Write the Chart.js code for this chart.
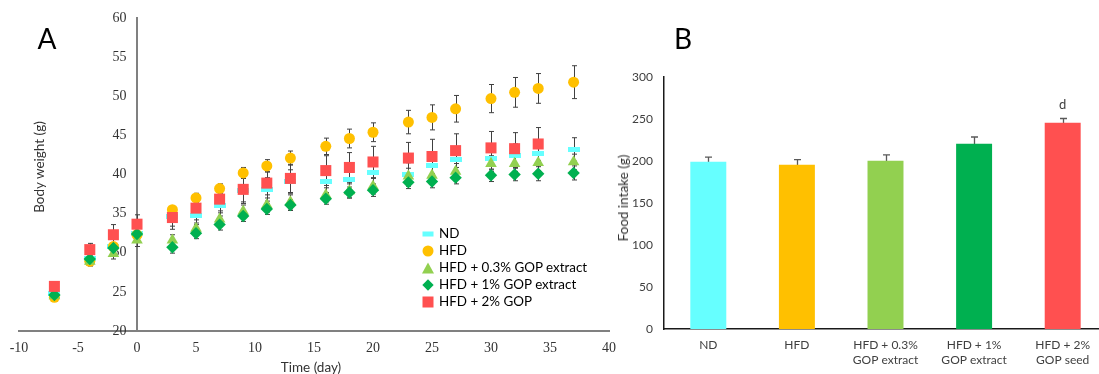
<!DOCTYPE html>
<html>
<head>
<meta charset="utf-8">
<script src="https://cdn.jsdelivr.net/npm/chart.js@4/dist/chart.umd.min.js"></script>
<style>
    html, body { margin: 0; padding: 0; background: #fff; overflow: hidden; }
    body { width: 1099px; height: 374px; position: relative; font-family: Lato, "Liberation Sans", sans-serif; color: #000; }
    #graficoPeso { position: absolute; left: 0; top: 0; }
    #graficoConsumo { position: absolute; left: 620px; top: 0; }
    .panel { position: absolute; font-size: 28px; line-height: 28px; transform: translate(-50%, -50%); }
    .titulo { position: absolute; font-size: 13.5px; line-height: 16px; color: #333; white-space: nowrap; transform: translate(-50%, -50%); }
    .titulo.rot { transform: translate(-50%, -50%) rotate(-90deg); }
    #leyenda { position: absolute; left: 420px; top: 225px; font-size: 13.4px; }
    #leyenda div { position: relative; height: 17px; line-height: 17px; padding-left: 19px; white-space: nowrap; }
    #leyenda span { position: absolute; left: 8px; top: 8.5px; transform: translate(-50%, -50%); }
</style>
</head>
<body>
<canvas id="graficoPeso" width="640" height="374"></canvas>
<canvas id="graficoConsumo" width="490" height="374"></canvas>
<div class="panel" style="left:47px; top:38px;">A</div>
<div class="panel" style="left:683px; top:38px;">B</div>
<div class="titulo rot" style="left:39px; top:167px;">Body weight (g)</div>
<div class="titulo" style="left:311px; top:367px;">Time (day)</div>
<div class="titulo rot" style="left:623px; top:198px;">Food intake (g)</div>
<div id="leyenda">
    <div><span style="width:11px;height:5px;background:#66FFFF;"></span>ND</div>
    <div><span style="width:11px;height:11px;border-radius:50%;background:#FFC000;"></span>HFD</div>
    <div><span style="width:0;height:0;border-left:6px solid transparent;border-right:6px solid transparent;border-bottom:11px solid #92D050;"></span>HFD + 0.3% GOP extract</div>
    <div><span style="width:8px;height:8px;background:#00B050;transform:translate(-50%,-50%) rotate(45deg);"></span>HFD + 1% GOP extract</div>
    <div><span style="width:11px;height:11px;background:#FF5050;"></span>HFD + 2% GOP</div>
</div>
<script>
// Panel A: peso corporal
let dias = [-7, -4, -2, 0, 3, 5, 7, 9, 11, 13, 16, 18, 20, 23, 25, 27, 30, 32, 34, 37];
let pesoND = [24.8, 29.3, 30.8, 32.5, 34.6, 34.8, 36.0, 38.0, 38.1, 39.1, 39.1, 39.4, 40.2, 40.0, 41.2, 41.9, 42.1, 42.4, 42.7, 43.2];
let pesoHFD = [24.3, 28.9, 30.8, 32.3, 35.5, 37.0, 38.2, 40.2, 41.1, 42.1, 43.6, 44.6, 45.4, 46.7, 47.3, 48.4, 49.7, 50.5, 51.0, 51.8];
let pesoExt03 = [24.5, 28.9, 29.9, 31.6, 31.6, 33.1, 34.3, 35.3, 36.1, 36.5, 37.4, 37.9, 38.5, 39.8, 39.9, 40.4, 41.4, 41.4, 41.5, 41.6];
let pesoExt1 = [24.6, 29.2, 30.6, 32.4, 30.7, 32.5, 33.6, 34.7, 35.6, 36.1, 36.9, 37.7, 38.0, 39.0, 39.1, 39.6, 39.9, 40.0, 40.1, 40.2];
let pesoGOP2 = [25.7, 30.4, 32.3, 33.65, 34.5, 35.7, 36.85, 38.1, 38.9, 39.5, 40.5, 40.9, 41.6, 42.1, 42.3, 43.05, 43.4, 43.3, 43.9];

let errND = [0.5, 0.8, 1.0, 1.2, 1.2, 1.2, 1.3, 1.5, 1.5, 1.5, 1.4, 1.4, 1.5, 1.5, 1.5, 1.5, 1.5, 1.5, 1.5, 1.5];
let errHFD = [0.4, 0.4, 0.5, 0.5, 0.5, 0.6, 0.6, 0.7, 0.8, 0.9, 1.05, 1.2, 1.2, 1.5, 1.6, 1.7, 1.8, 1.9, 1.9, 2.1];
let errExt03 = [0.5, 0.6, 0.7, 0.8, 0.7, 0.7, 0.8, 0.8, 0.9, 0.9, 0.9, 0.9, 1.0, 1.0, 1.0, 1.0, 1.0, 1.0, 1.0, 1.0];
let errExt1 = [0.5, 0.6, 0.6, 0.7, 0.75, 0.7, 0.7, 0.7, 0.7, 0.7, 0.7, 0.7, 0.8, 0.8, 0.8, 0.8, 0.8, 0.8, 0.9, 0.9];
let errGOP2 = [0.4, 0.8, 1.3, 1.2, 1.5, 1.5, 1.5, 1.8, 1.5, 1.8, 1.9, 1.9, 2.0, 2.0, 2.2, 2.15, 2.1, 2.05, 2.1];

let ticksX = [-10, -5, 0, 5, 10, 15, 20, 25, 30, 35, 40];
let ticksY = [20, 25, 30, 35, 40, 45, 50, 55, 60];

// Panel B: consumo de alimento
let grupos = ["ND", "HFD", ["HFD + 0.3%", "GOP extract"], ["HFD + 1%", "GOP extract"], ["HFD + 2%", "GOP seed"]];
let consumo = [199, 195.6, 200.4, 220.6, 245.6];
let errConsumo = [5.5, 6, 7, 8, 5];
let letras = ["", "", "", "", "d"];
let ticksConsumo = [0, 50, 100, 150, 200, 250, 300];

let colores = ["#66FFFF", "#FFC000", "#92D050", "#00B050", "#FF5050"];

function puntos(valores) {
    return valores.map((v, i) => ({ x: dias[i], y: v }));
}

const barrasError = {
    id: "barrasError",
    beforeDatasetsDraw(chart, args, opts) {
        const ctx = chart.ctx;
        const escalaY = chart.scales.y;
        ctx.save();
        ctx.strokeStyle = opts.color;
        ctx.lineWidth = opts.width;
        chart.data.datasets.forEach((ds, i) => {
            if (!ds.errores) return;
            const meta = chart.getDatasetMeta(i);
            meta.data.forEach((el, j) => {
                const v = typeof ds.data[j] === "object" ? ds.data[j].y : ds.data[j];
                const arriba = escalaY.getPixelForValue(v + ds.errores[j]);
                const abajo = escalaY.getPixelForValue(v - ds.errores[j]);
                const x = Math.round(el.x) + 0.5;
                ctx.beginPath();
                ctx.moveTo(x, arriba);
                ctx.lineTo(x, abajo);
                ctx.moveTo(x - opts.cap, arriba);
                ctx.lineTo(x + opts.cap, arriba);
                ctx.moveTo(x - opts.cap, abajo);
                ctx.lineTo(x + opts.cap, abajo);
                ctx.stroke();
            });
        });
        ctx.restore();
    }
};

const letrasBarras = {
    id: "letrasBarras",
    afterDatasetsDraw(chart) {
        const ctx = chart.ctx;
        const ds = chart.data.datasets[0];
        const meta = chart.getDatasetMeta(0);
        ctx.save();
        ctx.font = "13px Lato";
        ctx.fillStyle = "#404040";
        ctx.textAlign = "center";
        ctx.textBaseline = "bottom";
        letras.forEach((t, i) => {
            if (!t) return;
            const y = chart.scales.y.getPixelForValue(ds.data[i] + ds.errores[i]);
            ctx.fillText(t, meta.data[i].x, y - 7);
        });
        ctx.restore();
    }
};

function generarGraficoPeso() {
    const guion = document.createElement("canvas");
    guion.width = 12;
    guion.height = 5;
    const g = guion.getContext("2d");
    g.fillStyle = "#66FFFF";
    g.fillRect(0, 0, 12, 5);

    const fuenteEje = { family: "'Liberation Serif', 'Times New Roman', serif", size: 14 };

    new Chart(document.getElementById("graficoPeso"), {
        type: "scatter",
        data: {
            datasets: [
                { label: "ND", data: puntos(pesoND), errores: errND, pointStyle: guion, backgroundColor: "#66FFFF", order: 5 },
                { label: "HFD", data: puntos(pesoHFD), errores: errHFD, pointStyle: "circle", pointRadius: 5.5, backgroundColor: "#FFC000", order: 4 },
                { label: "HFD + 0.3% GOP extract", data: puntos(pesoExt03), errores: errExt03, pointStyle: "triangle", pointRadius: 6.7, backgroundColor: "#92D050", order: 3 },
                { label: "HFD + 1% GOP extract", data: puntos(pesoExt1), errores: errExt1, pointStyle: "rectRot", pointRadius: 6.2, backgroundColor: "#00B050", order: 2 },
                { label: "HFD + 2% GOP", data: puntos(pesoGOP2), errores: errGOP2, pointStyle: "rect", pointRadius: 7.8, backgroundColor: "#FF5050", order: 1 }
            ]
        },
        options: {
            responsive: false,
            animation: false,
            elements: { point: { borderWidth: 0 } },
            layout: { padding: { left: 19, right: 31, top: 18, bottom: 0 } },
            plugins: {
                legend: { display: false },
                tooltip: { enabled: false },
                barrasError: { color: "#404040", width: 1, cap: 2.5 }
            },
            scales: {
                x: {
                    type: "linear",
                    min: -10,
                    max: 40,
                    afterBuildTicks: (s) => { s.ticks = ticksX.map(v => ({ value: v })); },
                    afterFit: (s) => { s.height = 43; },
                    grid: { display: false, drawTicks: false },
                    border: { color: "#808080", width: 2 },
                    ticks: { color: "#333", font: fuenteEje, padding: 9 }
                },
                y: {
                    position: { x: 0 },
                    min: 20,
                    max: 60,
                    afterBuildTicks: (s) => { s.ticks = ticksY.map(v => ({ value: v })); },
                    grid: { display: false, drawTicks: false },
                    border: { color: "#808080", width: 2 },
                    // el eje en x=0 no respeta ticks.padding, se separa con espacios
                    ticks: { color: "#333", font: fuenteEje, callback: (v) => v + "\u2002\u2005" }
                }
            }
        },
        plugins: [barrasError]
    });
}

function generarGraficoConsumo() {
    const fuente = { family: "Lato", size: 12 };
    new Chart(document.getElementById("graficoConsumo"), {
        type: "bar",
        data: {
            labels: grupos,
            datasets: [{
                data: consumo,
                errores: errConsumo,
                backgroundColor: colores,
                barPercentage: 0.406,
                categoryPercentage: 1
            }]
        },
        options: {
            responsive: false,
            animation: false,
            layout: { padding: { left: 0, right: 3, top: 77, bottom: 0 } },
            plugins: {
                legend: { display: false },
                tooltip: { enabled: false },
                barrasError: { color: "#595959", width: 1.3, cap: 3.5 }
            },
            scales: {
                x: {
                    afterFit: (s) => { s.height = 45; },
                    grid: { display: false, drawTicks: false },
                    border: { color: "#1a1a1a", width: 1.5 },
                    ticks: { color: "#404040", font: { family: "Lato", size: 12, lineHeight: 1.25 }, padding: 9, maxRotation: 0, autoSkip: false }
                },
                y: {
                    min: 0,
                    max: 300,
                    afterBuildTicks: (s) => { s.ticks = ticksConsumo.map(v => ({ value: v })); },
                    afterFit: (s) => { s.width = 44; },
                    grid: { display: false, drawTicks: false },
                    border: { color: "#1a1a1a", width: 1.5 },
                    ticks: { color: "#404040", font: fuente, padding: 11 }
                }
            }
        },
        plugins: [barrasError, letrasBarras]
    });
}

document.addEventListener("DOMContentLoaded", () => {
    generarGraficoPeso();
    generarGraficoConsumo();
});
</script>
</body>
</html>
